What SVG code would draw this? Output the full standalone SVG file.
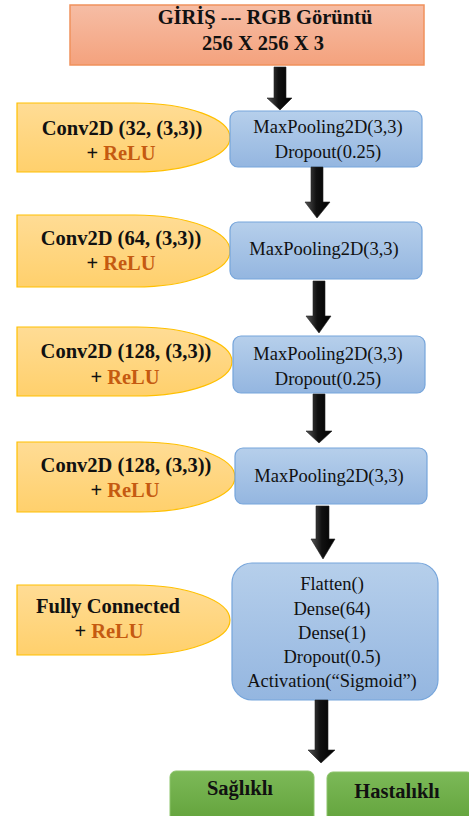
<svg xmlns="http://www.w3.org/2000/svg" width="469" height="816" viewBox="0 0 469 816">
  <defs>
    <linearGradient id="gIn" x1="0" y1="0" x2="0" y2="1">
      <stop offset="0" stop-color="#f6bda5"/>
      <stop offset="1" stop-color="#f4a27d"/>
    </linearGradient>
    <linearGradient id="gBlue" x1="0" y1="0" x2="0" y2="1">
      <stop offset="0" stop-color="#b6cfeb"/>
      <stop offset="1" stop-color="#94b6e0"/>
    </linearGradient>
    <linearGradient id="gYel" x1="0" y1="0" x2="0" y2="1">
      <stop offset="0" stop-color="#ffdc95"/>
      <stop offset="1" stop-color="#ffd06c"/>
    </linearGradient>
    <linearGradient id="gGreen" x1="0" y1="0" x2="0" y2="1">
      <stop offset="0" stop-color="#7cb958"/>
      <stop offset="1" stop-color="#5e9f36"/>
    </linearGradient>
    <linearGradient id="gArrow" x1="0" y1="0" x2="1" y2="0">
      <stop offset="0" stop-color="#555"/>
      <stop offset="0.45" stop-color="#111"/>
      <stop offset="1" stop-color="#000"/>
    </linearGradient>
  </defs>
  <style>
    .input { fill: url(#gIn); stroke: #f0915c; stroke-width: 1.5; }
    .layer { fill: url(#gBlue); stroke: #76a5db; stroke-width: 1.2; }
    .act { fill: url(#gYel); stroke: #ffc000; stroke-width: 1.2; }
    .out { fill: url(#gGreen); stroke: #8cc46a; stroke-width: 1; }
    .arrow { fill: url(#gArrow); stroke: #222; stroke-width: 0.6; }
    text { font-family: "Liberation Serif", "Times New Roman", serif; text-anchor: middle; fill: #111; }
    .b { font-weight: bold; font-size: 20.5px; }
    .r { font-size: 18.5px; }
    .relu { fill: #c55a11; }
  </style>

  <!-- input -->
  <g id="input">
    <rect class="input" x="70" y="5" width="354" height="60"/>
    <text class="b" x="265" y="24">GİRİŞ --- RGB Görüntü</text>
    <text class="b" x="263" y="50">256 X 256 X 3</text>
  </g>

  <!-- activation labels -->
  <g id="act1">
    <path class="act" d="M17,103 H135 A95,34.5 0 0 1 230,137.5 A95,34.5 0 0 1 135,172 H17 Z"/>
    <text class="b" x="122" y="135">Conv2D (32, (3,3))</text>
    <text class="b" x="121" y="160">+ <tspan class="relu">ReLU</tspan></text>
  </g>
  <g id="act2">
    <path class="act" d="M17,215 H135 A95,36 0 0 1 230,251 A95,36 0 0 1 135,287 H17 Z"/>
    <text class="b" x="121" y="245">Conv2D (64, (3,3))</text>
    <text class="b" x="121" y="270">+ <tspan class="relu">ReLU</tspan></text>
  </g>
  <g id="act3">
    <path class="act" d="M17,327 H137 A95,34.5 0 0 1 232,361.5 A95,34.5 0 0 1 137,396 H17 Z"/>
    <text class="b" x="126" y="358">Conv2D (128, (3,3))</text>
    <text class="b" x="125" y="384">+ <tspan class="relu">ReLU</tspan></text>
  </g>
  <g id="act4">
    <path class="act" d="M17,442 H140 A95,35 0 0 1 235,477 A95,35 0 0 1 140,512 H17 Z"/>
    <text class="b" x="126" y="472">Conv2D (128, (3,3))</text>
    <text class="b" x="125" y="497">+ <tspan class="relu">ReLU</tspan></text>
  </g>
  <g id="act5">
    <path class="act" d="M17,585 H135 A95,35 0 0 1 230,620 A95,35 0 0 1 135,655 H17 Z"/>
    <text class="b" x="108" y="613">Fully Connected</text>
    <text class="b" x="109" y="638">+ <tspan class="relu">ReLU</tspan></text>
  </g>

  <!-- layer blocks -->
  <g id="block1">
    <rect class="layer" x="230" y="111" width="192" height="56" rx="8"/>
    <text class="r" x="328" y="133">MaxPooling2D(3,3)</text>
    <text class="r" x="328" y="158">Dropout(0.25)</text>
  </g>
  <g id="block2">
    <rect class="layer" x="230" y="222" width="192" height="57" rx="8"/>
    <text class="r" x="324" y="255">MaxPooling2D(3,3)</text>
  </g>
  <g id="block3">
    <rect class="layer" x="233" y="336" width="192" height="57" rx="8"/>
    <text class="r" x="328" y="360">MaxPooling2D(3,3)</text>
    <text class="r" x="328" y="385">Dropout(0.25)</text>
  </g>
  <g id="block4">
    <rect class="layer" x="235" y="448" width="192" height="56" rx="8"/>
    <text class="r" x="329" y="482">MaxPooling2D(3,3)</text>
  </g>
  <g id="block5">
    <rect class="layer" x="232" y="563" width="206" height="137" rx="20"/>
    <text class="r" x="332" y="590">Flatten()</text>
    <text class="r" x="332" y="615">Dense(64)</text>
    <text class="r" x="332" y="639">Dense(1)</text>
    <text class="r" x="332" y="663">Dropout(0.5)</text>
    <text class="r" x="332" y="687">Activation(“Sigmoid”)</text>
  </g>

  <!-- outputs -->
  <g id="healthy">
    <rect class="out" x="170" y="771" width="144" height="60" rx="6"/>
    <text class="b" x="240" y="795">Sağlıklı</text>
  </g>
  <g id="diseased">
    <rect class="out" x="327" y="772" width="146" height="60" rx="6"/>
    <text class="b" x="397" y="798">Hastalıklı</text>
  </g>

  <!-- connectors -->
  <g id="connectors">
    <polygon class="arrow" points="274,67 286,67 286,98 292,98 280,110 267,98 274,98"/>
    <polygon class="arrow" points="311,167 323,167 323,202 330,202 317,218 305,202 311,202"/>
    <polygon class="arrow" points="313,281 325,281 325,316 331,316 319,333 306,316 313,316"/>
    <polygon class="arrow" points="313,394 325,394 325,431 332,431 319,443 306,431 313,431"/>
    <polygon class="arrow" points="316,506 329,506 329,539 335,539 323,559 311,539 316,539"/>
    <polygon class="arrow" points="315,700 328,700 328,750 335,750 321,763 308,750 315,750"/>
  </g>
</svg>
